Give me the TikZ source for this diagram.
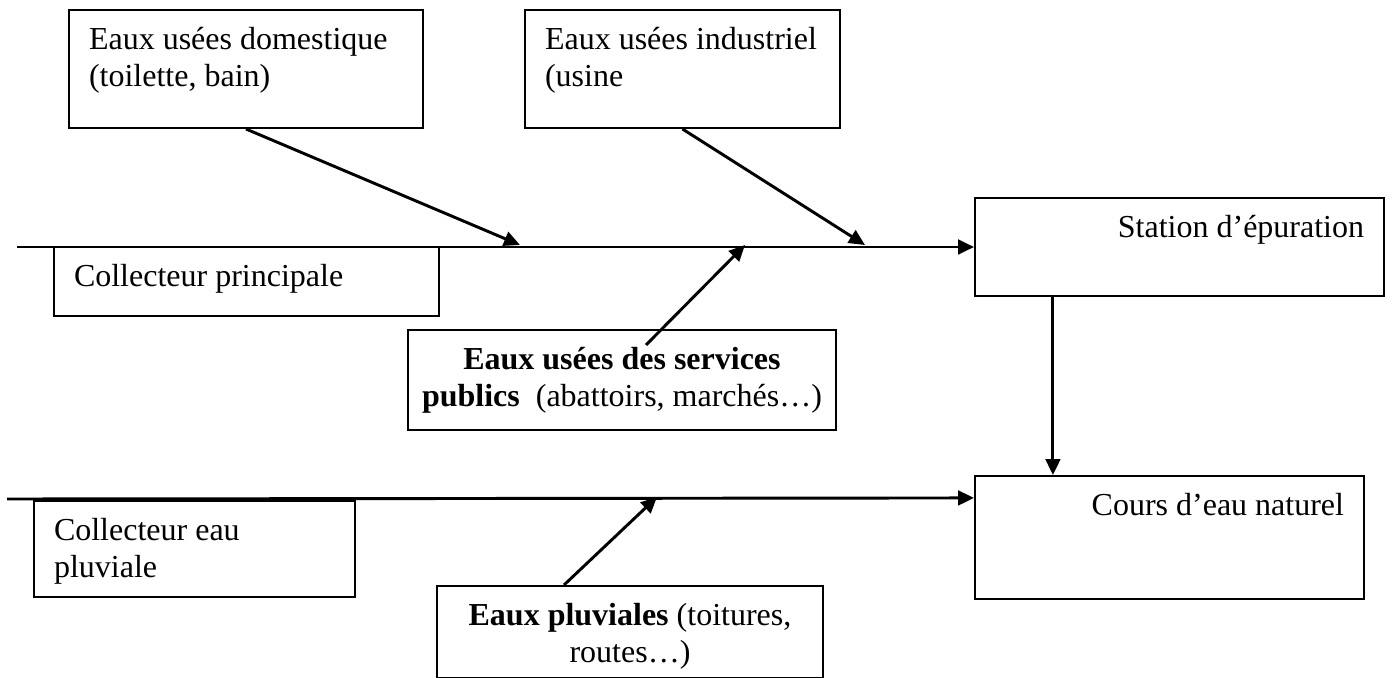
\documentclass[tikz,border=0pt]{standalone}
\usepackage{fontspec}
\setmainfont{Liberation Serif}
\usepackage{tikz}
\usetikzlibrary{positioning,arrows.meta}
\tikzstyle{wbox} = [draw, line width=0.75pt, rectangle, anchor=north west,
    inner xsep=7.5pt, inner ysep=6.5pt, font=\fontsize{12pt}{14pt}\selectfont]
\tikzstyle{pipe} = [line width=1.1pt, -{Triangle[length=6pt,width=5.5pt]}]

\begin{document}
\begin{tikzpicture}[x=0.375pt,y=-0.375pt]
\useasboundingbox (0,0) rectangle (1392,678);

\node [wbox] (dom) at (68,9) {%
    \begin{minipage}[t][31.25pt][t]{117.75pt}\raggedright
      Eaux usées domestique\\
      (toilette, bain)
    \end{minipage}
};

\node [wbox, right=37.5pt of dom.north east, anchor=north west] (ind) {%
    \begin{minipage}[t][31.25pt][t]{103.1pt}\raggedright
      Eaux usées industriel\\
      (usine
    \end{minipage}
};

\node [wbox] (colp) at (53,246) {%
    \begin{minipage}[t][12.9pt][t]{129.4pt}\raggedright
      Collecteur principale
    \end{minipage}
};

\node [wbox, inner xsep=2pt] (serv) at (407,329) {%
    \begin{minipage}[t][24.5pt][t]{156.5pt}\centering
      \textbf{Eaux usées des services}\\
      \mbox{\textbf{publics}\ \ (abattoirs, marchés…)}
    \end{minipage}
};

\node [wbox] (station) at (974,197) {%
    \begin{minipage}[t][23.75pt][t]{138.4pt}\raggedleft
      Station d’épuration
    \end{minipage}
};

\node [wbox, below=66.75pt of station.south west, anchor=north west] (cours) {%
    \begin{minipage}[t][33.1pt][t]{130.9pt}\raggedleft
      Cours d’eau naturel
    \end{minipage}
};

\node [wbox] (colep) at (33,500) {%
    \begin{minipage}[t][23pt][t]{105.4pt}\raggedright
      Collecteur eau\\
      pluviale
    \end{minipage}
};

\node [wbox] (pluv) at (436,585) {%
    \begin{minipage}[t][21.5pt][t]{129.75pt}\centering
      \textbf{Eaux pluviales} (toitures,\\
      routes…)
    \end{minipage}
};

% collecteurs
\coordinate (in1) at (17,247);
\coordinate (in2) at (7,499);
\coordinate (j1) at (520,245);
\coordinate (j2) at (865,245);
\coordinate (j3) at (745,245);
\coordinate (j4) at (657,497);

\draw [pipe] (in1) -- (station.west);
\draw [pipe] (in2) -- ([yshift=-8.6pt]cours.north west);

\draw [pipe] (dom.south) -- (j1);
\draw [pipe] (ind.south) -- (j2);
\draw [pipe] ([xshift=9pt,yshift=-6pt]serv.north) -- (j3);
\draw [pipe] ([xshift=48pt]pluv.north west) -- (j4);

\draw [pipe] ([xshift=29.6pt]station.south west) -- ([xshift=29.6pt]cours.north west);

\end{tikzpicture}
\end{document}
